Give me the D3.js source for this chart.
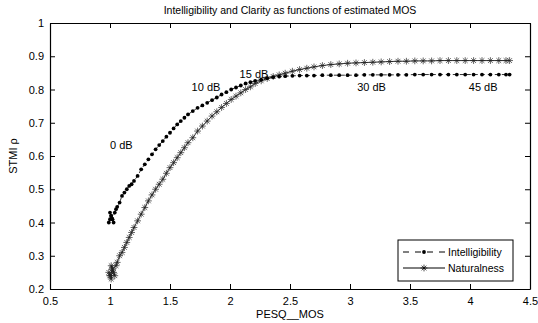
<!DOCTYPE html>
<head>
    <title>Intelligibility and Clarity</title>
    <script src="https://cdn.jsdelivr.net/npm/d3@7"></script>
    <style>
        body { margin: 0; background: white; }
        text { font-family: "Liberation Sans", Arial, sans-serif; fill: #000; }
    </style>
</head>
<body>
<div id="container"></div>

<script>

// Données (PESQ MOS estimé et STMI rho)
const pesq = [1.00, 0.99, 1.01, 1.02, 1.00, 1.03, 1.01, 1.04, 1.02, 1.05,
              1.06, 1.08, 1.10, 1.12, 1.14, 1.16, 1.18, 1.20, 1.23, 1.26,
              1.29, 1.32, 1.35, 1.38, 1.41, 1.44, 1.47, 1.50, 1.53, 1.56,
              1.59, 1.62, 1.65, 1.69, 1.73, 1.77, 1.81, 1.85, 1.89, 1.93,
              1.97, 2.01, 2.05, 2.09, 2.13, 2.17, 2.21, 2.26, 2.31, 2.36,
              2.41, 2.46, 2.52, 2.58, 2.64, 2.70, 2.77, 2.84, 2.91, 2.98,
              3.05, 3.12, 3.19, 3.26, 3.33, 3.40, 3.47, 3.54, 3.61, 3.68,
              3.75, 3.82, 3.89, 3.96, 4.03, 4.10, 4.17, 4.24, 4.30, 4.33];

const intelligibility = [0.41, 0.40, 0.42, 0.41, 0.43, 0.40, 0.42, 0.43, 0.41, 0.44,
              0.447, 0.46, 0.48, 0.49, 0.50, 0.51, 0.515, 0.525, 0.54, 0.56,
              0.575, 0.59, 0.605, 0.62, 0.633, 0.645, 0.658, 0.67, 0.683, 0.695,
              0.705, 0.715, 0.725, 0.735, 0.745, 0.752, 0.76, 0.768, 0.776, 0.785,
              0.792, 0.80, 0.806, 0.812, 0.818, 0.822, 0.826, 0.830, 0.834, 0.837,
              0.839, 0.840, 0.841, 0.842, 0.842, 0.842, 0.843, 0.843, 0.843, 0.843,
              0.843, 0.844, 0.844, 0.844, 0.844, 0.844, 0.844, 0.845, 0.845, 0.845,
              0.845, 0.845, 0.845, 0.845, 0.845, 0.845, 0.845, 0.845, 0.845, 0.845];

const naturalness = [0.24, 0.25, 0.23, 0.26, 0.24, 0.25, 0.27, 0.24, 0.26, 0.27,
              0.28, 0.30, 0.31, 0.325, 0.34, 0.355, 0.37, 0.385, 0.405, 0.425,
              0.445, 0.465, 0.483, 0.50, 0.515, 0.53, 0.548, 0.565, 0.58, 0.595,
              0.61, 0.625, 0.64, 0.655, 0.675, 0.69, 0.705, 0.72, 0.733, 0.746,
              0.758, 0.77, 0.78, 0.79, 0.80, 0.808, 0.818, 0.826, 0.833, 0.839,
              0.844, 0.849, 0.855, 0.86, 0.864, 0.868, 0.872, 0.875, 0.877, 0.879,
              0.880, 0.881, 0.882, 0.883, 0.884, 0.885, 0.885, 0.886, 0.886, 0.886,
              0.887, 0.887, 0.887, 0.887, 0.887, 0.887, 0.887, 0.887, 0.887, 0.887];

// Étiquettes SNR placées sur le graphique
const snrLabels = ["0 dB", "10 dB", "15 dB", "30 dB", "45 dB"];
const snrX = [1.0, 1.68, 2.08, 3.06, 3.99];
const snrY = [0.621, 0.795, 0.835, 0.795, 0.795];

const xTicks = [0.5, 1, 1.5, 2, 2.5, 3, 3.5, 4, 4.5];
const yTicks = [0.2, 0.3, 0.4, 0.5, 0.6, 0.7, 0.8, 0.9, 1];

const seriesNames = ["Intelligibility", "Naturalness"];

// Dimensions
const width = 538;
const height = 323;
const marginTop = 23;
const marginRight = 8;
const marginBottom = 34;
const marginLeft = 50;

const svg = d3.create("svg")
              .attr("width", width)
              .attr("height", height);

const x = d3.scaleLinear()
            .domain([0.5, 4.5])
            .range([marginLeft, width - marginRight]);

const y = d3.scaleLinear()
            .domain([0.2, 1])
            .range([height - marginBottom, marginTop]);

const tickLen = 5;

// Axes (ticks vers l'intérieur, comme MATLAB)
svg.append("g")
   .attr("transform", `translate(0,${height - marginBottom})`)
   .call(d3.axisBottom(x).tickValues(xTicks).tickSizeInner(-tickLen).tickSizeOuter(0).tickPadding(8)
           .tickFormat(d3.format("")))
   .call(g => g.selectAll("text").style("font-size", "11px"));

svg.append("g")
   .attr("transform", `translate(${marginLeft},0)`)
   .call(d3.axisLeft(y).tickValues(yTicks).tickSizeInner(-tickLen).tickSizeOuter(0).tickPadding(6)
           .tickFormat(d3.format("")))
   .call(g => g.selectAll("text").style("font-size", "11px"));

svg.append("g")
   .attr("transform", `translate(0,${marginTop})`)
   .call(d3.axisTop(x).tickValues(xTicks).tickSizeInner(-tickLen).tickSizeOuter(0).tickFormat(""));

svg.append("g")
   .attr("transform", `translate(${width - marginRight},0)`)
   .call(d3.axisRight(y).tickValues(yTicks).tickSizeInner(-tickLen).tickSizeOuter(0).tickFormat(""));

svg.selectAll(".domain").attr("stroke", "#000").attr("stroke-width", 1.2);
svg.selectAll(".tick line").attr("stroke", "#000");

// Courbes
const dataInt = pesq.map((p, i) => [p, intelligibility[i]]);
const dataNat = pesq.map((p, i) => [p, naturalness[i]]);

const line = d3.line()
               .x(d => x(d[0]))
               .y(d => y(d[1]));

svg.append("path")
   .datum(dataNat)
   .attr("d", line)
   .attr("fill", "none")
   .attr("stroke", "#000")
   .attr("stroke-width", 0.8);

svg.append("path")
   .datum(dataInt)
   .attr("d", line)
   .attr("fill", "none")
   .attr("stroke", "#000")
   .attr("stroke-width", 0.8)
   .attr("stroke-dasharray", "4,3");

// Marqueur étoile (plus + croix)
const star = r => `M${-r},0L${r},0M0,${-r}L0,${r}M${-r*0.7},${-r*0.7}L${r*0.7},${r*0.7}M${-r*0.7},${r*0.7}L${r*0.7},${-r*0.7}`;

svg.append("g")
   .selectAll("path")
   .data(dataNat)
   .join("path")
   .attr("transform", d => `translate(${x(d[0])},${y(d[1])})`)
   .attr("d", star(3.4))
   .attr("stroke", "#222")
   .attr("stroke-width", 0.7)
   .attr("fill", "none");

svg.append("g")
   .selectAll("circle")
   .data(dataInt)
   .join("circle")
   .attr("cx", d => x(d[0]))
   .attr("cy", d => y(d[1]))
   .attr("r", 1.9)
   .attr("fill", "#000");

// Étiquettes SNR
svg.append("g")
   .selectAll("text")
   .data(snrLabels)
   .join("text")
   .attr("x", (d, i) => x(snrX[i]))
   .attr("y", (d, i) => y(snrY[i]))
   .style("font-size", "11px")
   .text(d => d);

// Titre et libellés d'axes
svg.append("text")
   .attr("x", (marginLeft + width - marginRight) / 2)
   .attr("y", 14)
   .attr("text-anchor", "middle")
   .style("font-size", "10.5px")
   .text("Intelligibility and Clarity as functions of estimated MOS");

svg.append("text")
   .attr("x", (marginLeft + width - marginRight) / 2)
   .attr("y", 318)
   .attr("text-anchor", "middle")
   .style("font-size", "11px")
   .text("PESQ__MOS");

svg.append("text")
   .attr("transform", `translate(17,${(marginTop + height - marginBottom) / 2}) rotate(-90)`)
   .attr("text-anchor", "middle")
   .style("font-size", "11px")
   .text("STMI ρ");

// Légende
const legend = svg.append("g")
                  .attr("transform", "translate(398,240)");

legend.append("rect")
      .attr("width", 115)
      .attr("height", 41)
      .attr("fill", "white")
      .attr("stroke", "#000")
      .attr("stroke-width", 1);

legend.append("line")
      .attr("x1", 5).attr("x2", 47).attr("y1", 12).attr("y2", 12)
      .attr("stroke", "#000").attr("stroke-dasharray", "6,6");
legend.append("circle")
      .attr("cx", 26).attr("cy", 12).attr("r", 1.9).attr("fill", "#000");

legend.append("line")
      .attr("x1", 5).attr("x2", 47).attr("y1", 28).attr("y2", 28)
      .attr("stroke", "#000");
legend.append("path")
      .attr("transform", "translate(26,28)")
      .attr("d", star(3.4))
      .attr("stroke", "#000").attr("stroke-width", 0.7);

legend.selectAll(".lab")
      .data(seriesNames)
      .join("text")
      .attr("class", "lab")
      .attr("x", 50)
      .attr("y", (d, i) => 16 + i * 16)
      .style("font-size", "10.5px")
      .text(d => d);

container.append(svg.node());

</script>
</body>
